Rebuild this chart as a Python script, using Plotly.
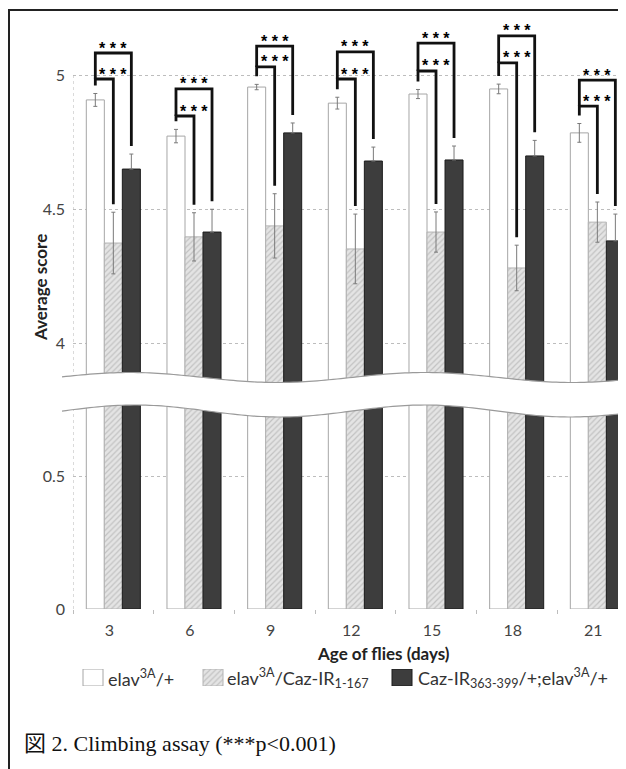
import numpy as np
import plotly.graph_objects as go

# ---------------- data ----------------
days = ["3", "6", "9", "12", "15", "18", "21"]
ctrl = [4.907, 4.772, 4.955, 4.895, 4.929, 4.948, 4.784]          # elav3A/+
ctrl_err = [0.024, 0.025, 0.010, 0.022, 0.017, 0.018, 0.035]
ir1 = [4.373, 4.396, 4.437, 4.351, 4.414, 4.280, 4.451]           # elav3A/Caz-IR1-167
ir1_err = [0.115, 0.090, 0.120, 0.130, 0.075, 0.085, 0.075]
ir2 = [4.649, 4.414, 4.784, 4.679, 4.683, 4.698, 4.381]           # Caz-IR363-399/+;elav3A/+
ir2_err = [0.056, 0.085, 0.037, 0.052, 0.052, 0.058, 0.100]
inner_level = [4.985, 4.847, 5.030, 4.985, 5.015, 5.045, 4.884]   # bracket ctrl vs IR1
outer_level = [5.082, 4.948, 5.108, 5.086, 5.119, 5.146, 4.981]   # bracket ctrl vs IR2
sig_text = "<b>* * *</b>"
names = ["elav<sup>3A</sup>/+",
         "elav<sup>3A</sup>/Caz-IR<sub>1-167</sub>",
         "Caz-IR<sub>363-399</sub>/+;elav<sup>3A</sup>/+"]
upper_ticks = [4, 4.5, 5]
lower_ticks = [0, 0.5]

# ---------------- geometry (screen pixels; page body has an 8px margin) ----------------
OFF = 8
SW, SH = 626, 769
W, H = SW - OFF, SH - OFF
L, R_EDGE, T, PB = 73, 626, 21, 709   # paper area in screen pixels
PW, PH = R_EDGE - L, PB - T


def px(x):
    return (x - L) / PW


def py(y):
    return (PB - y) / PH


up_dom = [py(384), py(T)]
lo_dom = [py(609), py(404)]
up_range = [5 - (384 - 75) / 268, 5 + (75 - 21) / 268]
lo_range = [0, (609 - 404) / 266]
bargap = 0.33
bw = (1 - bargap) / 3
xs = np.arange(len(days))
gap = 0.03

WHITE = dict(color="white", line=dict(color="#a6a6a6", width=1))
HATCH = dict(color="#dedede", line=dict(color="#b4b4b4", width=1),
             pattern=dict(shape="/", bgcolor="#e4e4e4", fgcolor="#a0a0a0", size=4, solidity=0.3))
DARK = dict(color="#3d3d3d", line=dict(color="#1c1c1c", width=1))
ERR = dict(color="#7a7a7a", thickness=1, width=2)

fig = go.Figure()
series = [(ctrl, ctrl_err, WHITE, True), (ir1, ir1_err, HATCH, True), (ir2, ir2_err, DARK, False)]
for k, (vals, err, mk, sym) in enumerate(series):
    ey = dict(type="data", array=err, visible=True, **ERR)
    if not sym:
        ey.update(symmetric=False, arrayminus=[0] * len(err))
    fig.add_trace(go.Bar(x=xs, y=vals, marker=mk, error_y=ey, name=names[k],
                         offsetgroup=str(k), xaxis="x", yaxis="y", showlegend=False,
                         hoverinfo="skip"))
    fig.add_trace(go.Bar(x=xs, y=vals, marker=mk, name=names[k],
                         offsetgroup=str(k), xaxis="x", yaxis="y2", showlegend=False,
                         hoverinfo="skip"))

# significance brackets
bx, byv = [], []
for i in range(len(days)):
    xw, xh, xd = xs[i] - bw, xs[i], xs[i] + bw
    w_top = ctrl[i] + ctrl_err[i] + gap
    bx += [xw, xw, xh, xh, None]
    byv += [w_top, inner_level[i], inner_level[i], ir1[i] + ir1_err[i] + gap, None]
    bx += [xw, xw, xd, xd, None]
    byv += [inner_level[i], outer_level[i], outer_level[i], ir2[i] + ir2_err[i] + gap, None]
fig.add_trace(go.Scatter(x=bx, y=byv, mode="lines", line=dict(color="#111111", width=2.8),
                         xaxis="x", yaxis="y", showlegend=False, hoverinfo="skip",
                         cliponaxis=False))

annotations = []
for i in range(len(days)):
    for lev in (inner_level[i], outer_level[i]):
        annotations.append(dict(x=xs[i], y=lev, xref="x", yref="y", text=sig_text,
                                showarrow=False, xanchor="center", yanchor="middle", yshift=5,
                                font=dict(family="Liberation Sans", size=16, color="#000000")))


def note(x, y, text, size, family="Lato", color="#222222", xanchor="center", angle=0):
    return dict(x=px(x), y=py(y), xref="paper", yref="paper", text=text, showarrow=False,
                xanchor=xanchor, yanchor="middle", textangle=angle,
                font=dict(family=family, size=size, color=color))


annotations.append(note(40, 288, "<b>Average score</b>", 17, angle=-90))
annotations.append(note(383, 653, "<b>Age of flies (days)</b>", 17))
annotations.append(note(22, 743, "図 2. Climbing assay (***p&lt;0.001)", 22,
                        family="Liberation Serif, Noto Sans CJK JP", color="#111111",
                        xanchor="left"))

# legend (custom keys)
leg_keys = [(83, WHITE, 106), (203, HATCH, 225), (392, DARK, 416)]
leg_x0, leg_x1 = 75, 520
for k, (x0, mk, tx) in enumerate(leg_keys):
    fig.add_trace(go.Bar(x=[x0], y=[1], width=[20], offset=0, marker=mk, xaxis="x3", yaxis="y3",
                         showlegend=False, hoverinfo="skip"))
    annotations.append(note(tx, 678, names[k], 18, color="#333333", xanchor="left"))

# break (wavy gap)
wx = np.linspace(62, 640, 146)
wu = 377.5 - 5 * np.cos(2 * np.pi * (wx - 130) / 295)
wl = 411 - 6 * np.cos(2 * np.pi * (wx - 135) / 290)
pts_u = [(px(a), py(b)) for a, b in zip(wx, wu)]
pts_l = [(px(a), py(b)) for a, b in zip(wx, wl)]
poly = "M " + " L ".join(f"{a:.5f},{b:.5f}" for a, b in pts_u + pts_l[::-1]) + " Z"
line_u = "M " + " L ".join(f"{a:.5f},{b:.5f}" for a, b in pts_u)
line_l = "M " + " L ".join(f"{a:.5f},{b:.5f}" for a, b in pts_l)

shapes = [
    dict(type="line", xref="x", yref="y", x0=-0.5, x1=-0.5, y0=up_range[0], y1=5,
         line=dict(color="#b5b5b5", width=1, dash="dot")),
    dict(type="line", xref="x", yref="y2", x0=-0.5, x1=-0.5, y0=0, y1=lo_range[1],
         line=dict(color="#b5b5b5", width=1, dash="dot")),
    dict(type="path", xref="paper", yref="paper", path=poly, fillcolor="white",
         line=dict(width=0), layer="above"),
    dict(type="path", xref="paper", yref="paper", path=line_u,
         line=dict(color="#9a9a9a", width=1.2), layer="above"),
    dict(type="path", xref="paper", yref="paper", path=line_l,
         line=dict(color="#9a9a9a", width=1.2), layer="above"),
    dict(type="rect", xref="paper", yref="paper", x0=px(9), x1=px(700), y0=py(820), y1=py(10),
         line=dict(color="#222222", width=2), layer="above"),
]

tickfont = dict(family="Lato", size=16, color="#444444")
fig.update_layout(
    width=W, height=H,
    margin=dict(l=L - OFF, r=SW - R_EDGE, t=T - OFF, b=SH - PB, pad=0),
    paper_bgcolor="white", plot_bgcolor="white",
    barmode="group", bargap=bargap, bargroupgap=0,
    xaxis=dict(domain=[0, 1], anchor="y2", range=[-0.5, (R_EDGE - 112.5) / 80.8],
               tickvals=list(xs), ticktext=days, ticks="", showgrid=False, zeroline=False,
               showline=False, tickfont=tickfont, ticklabelshift=-4, ticklabelstandoff=10,
               minor=dict(tick0=0.5, dtick=1, ticks="outside", ticklen=4, tickcolor="#bdbdbd",
                          showgrid=False)),
    yaxis=dict(domain=up_dom, anchor="x", range=up_range, tickvals=upper_ticks,
               ticktext=["4", "4.5", "5"], showgrid=True, gridcolor="#bdbdbd", griddash="dot",
               gridwidth=1, zeroline=False, showline=False, ticks="", tickfont=tickfont,
               ticklabelstandoff=7),
    yaxis2=dict(domain=lo_dom, anchor="x", range=lo_range, tickvals=lower_ticks,
                ticktext=["0", "0.5"], showgrid=True, gridcolor="#bdbdbd", griddash="dot",
                gridwidth=1, zeroline=False, showline=False, ticks="", tickfont=tickfont,
                ticklabelstandoff=7),
    xaxis3=dict(domain=[px(leg_x0), px(leg_x1)], range=[leg_x0, leg_x1], anchor="y3",
                visible=False, fixedrange=True),
    yaxis3=dict(domain=[py(686), py(669)], range=[0, 1], anchor="x3", visible=False,
                fixedrange=True),
    annotations=annotations, shapes=shapes, showlegend=False,
)

fig.write_html("out.html")
